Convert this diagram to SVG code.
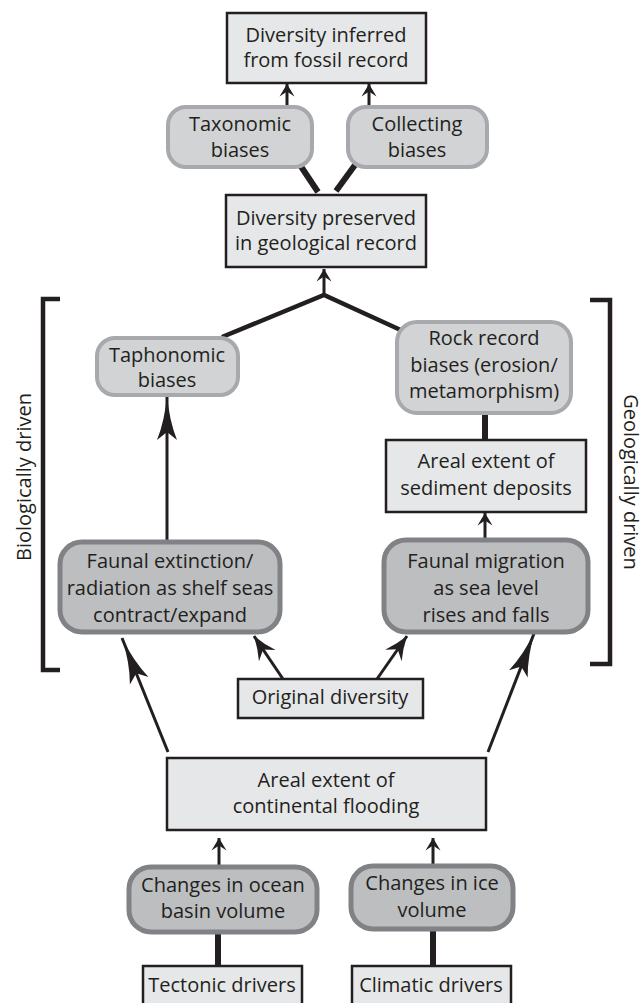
<svg xmlns="http://www.w3.org/2000/svg" width="644" height="1003" viewBox="0 0 644 1003">
<style>
text{font-family:"Open Sans","Liberation Sans",sans-serif;font-size:20px;fill:#231f20;text-anchor:middle}
.box{fill:#e6e7e8;stroke:#231f20;stroke-width:2.5}
.lt{fill:#d1d3d4;stroke:#a7a9ac;stroke-width:4}
.dk{fill:#bcbec0;stroke:#808285;stroke-width:5}
.ln{stroke:#231f20;fill:none;stroke-linecap:butt}
.w3{stroke-width:3}
.w4{stroke-width:4.5}
.w6{stroke-width:6}
</style>
<defs>
<marker id="aS" markerUnits="userSpaceOnUse" markerWidth="20" markerHeight="20" viewBox="-12 -8 14 16" refX="0" refY="0" orient="auto"><path d="M0,0 L-10,-6 L-6,0 L-10,6 Z" fill="#231f20"/></marker>
<marker id="aM" markerUnits="userSpaceOnUse" markerWidth="30" markerHeight="30" viewBox="-22 -10 24 20" refX="0" refY="0" orient="auto"><path d="M0,0 Q-10,-3 -19,-8 L-13,0 L-19,8 Q-10,3 0,0 Z" fill="#231f20"/></marker>
<marker id="aL" markerUnits="userSpaceOnUse" markerWidth="50" markerHeight="30" viewBox="-48 -12 50 24" refX="0" refY="0" orient="auto"><path d="M0,0 Q-26,-2 -46,-10 L-38,0 L-46,10 Q-26,2 0,0 Z" fill="#231f20"/></marker>
</defs>

<g id="connectors">
<line class="ln w3" x1="287" y1="107" x2="287" y2="84" marker-end="url(#aS)"/>
<line class="ln w3" x1="369" y1="107" x2="369" y2="84" marker-end="url(#aS)"/>
<line class="ln w6" x1="300" y1="165" x2="318" y2="192"/>
<line class="ln w6" x1="355" y1="165" x2="336" y2="191"/>
<polyline class="ln w4" points="222,337 324,295 405,332"/>
<line class="ln w3" x1="324" y1="297" x2="324" y2="269" marker-end="url(#aS)"/>
<line class="ln w3" x1="167" y1="542" x2="167" y2="394" marker-end="url(#aL)"/>
<line class="ln w6" x1="485" y1="413" x2="485" y2="440"/>
<line class="ln w3" x1="485" y1="540" x2="485" y2="513" marker-end="url(#aS)"/>
<line class="ln w3" x1="283" y1="679" x2="254" y2="636" marker-end="url(#aM)"/>
<line class="ln w3" x1="377" y1="679" x2="407" y2="636" marker-end="url(#aM)"/>
<line class="ln w3" x1="168" y1="752" x2="122" y2="638" marker-end="url(#aL)"/>
<line class="ln w3" x1="488" y1="752" x2="535" y2="631" marker-end="url(#aL)"/>
<line class="ln w3" x1="219" y1="867" x2="219" y2="838" marker-end="url(#aS)"/>
<line class="ln w3" x1="433" y1="867" x2="433" y2="838" marker-end="url(#aS)"/>
<line class="ln w6" x1="218" y1="932" x2="218" y2="966"/>
<line class="ln w6" x1="433" y1="929" x2="433" y2="966"/>
</g>

<g id="brackets">
<polyline class="ln w4" points="60,299 43,299 43,670 60,670"/>
<polyline class="ln w4" points="590,300 610,300 610,664 590,664"/>
<text transform="translate(31,477) rotate(-90)">Biologically driven</text>
<text transform="translate(624,482) rotate(90)">Geologically driven</text>
</g>

<g id="n-inferred"><rect class="box" x="227" y="13" width="199" height="70"/><text x="326" y="42">Diversity inferred</text><text x="326" y="67">from fossil record</text></g>
<g id="n-taxonomic"><rect class="lt" x="168" y="107" width="144" height="60" rx="18"/><text x="240" y="131">Taxonomic</text><text x="240" y="157">biases</text></g>
<g id="n-collecting"><rect class="lt" x="348" y="107" width="139" height="60" rx="18"/><text x="417" y="131">Collecting</text><text x="417" y="157">biases</text></g>
<g id="n-preserved"><rect class="box" x="226" y="195" width="200" height="72"/><text x="326" y="225">Diversity preserved</text><text x="326" y="250">in geological record</text></g>
<g id="n-taphonomic"><rect class="lt" x="97" y="338" width="141" height="57" rx="18"/><text x="167" y="362">Taphonomic</text><text x="167" y="387">biases</text></g>
<g id="n-rock"><rect class="lt" x="397" y="322" width="174" height="91" rx="20"/><text x="484" y="345">Rock record</text><text x="484" y="372">biases (erosion/</text><text x="484" y="398">metamorphism)</text></g>
<g id="n-sediment"><rect class="box" x="386" y="440" width="200" height="72"/><text x="486" y="468">Areal extent of</text><text x="486" y="495">sediment deposits</text></g>
<g id="n-extinction"><rect class="dk" x="60" y="542" width="220" height="90" rx="22"/><text x="170" y="568">Faunal extinction/</text><text x="170" y="595">radiation as shelf seas</text><text x="170" y="622">contract/expand</text></g>
<g id="n-migration"><rect class="dk" x="384" y="540" width="204" height="92" rx="22"/><text x="486" y="568">Faunal migration</text><text x="486" y="595">as sea level</text><text x="486" y="622">rises and falls</text></g>
<g id="n-original"><rect class="box" x="238" y="679" width="185" height="39"/><text x="330" y="704">Original diversity</text></g>
<g id="n-flooding"><rect class="box" x="167" y="758" width="319" height="72"/><text x="326" y="787">Areal extent of</text><text x="326" y="813">continental flooding</text></g>
<g id="n-ocean"><rect class="dk" x="129" y="867" width="188" height="65" rx="22"/><text x="223" y="892">Changes in ocean</text><text x="223" y="918">basin volume</text></g>
<g id="n-ice"><rect class="dk" x="351" y="866" width="162" height="63" rx="22"/><text x="432" y="890">Changes in ice</text><text x="432" y="917">volume</text></g>
<g id="n-tectonic"><rect class="box" x="143" y="966" width="159" height="42"/><text x="222" y="992">Tectonic drivers</text></g>
<g id="n-climatic"><rect class="box" x="352" y="966" width="159" height="42"/><text x="431" y="992">Climatic drivers</text></g>
</svg>
